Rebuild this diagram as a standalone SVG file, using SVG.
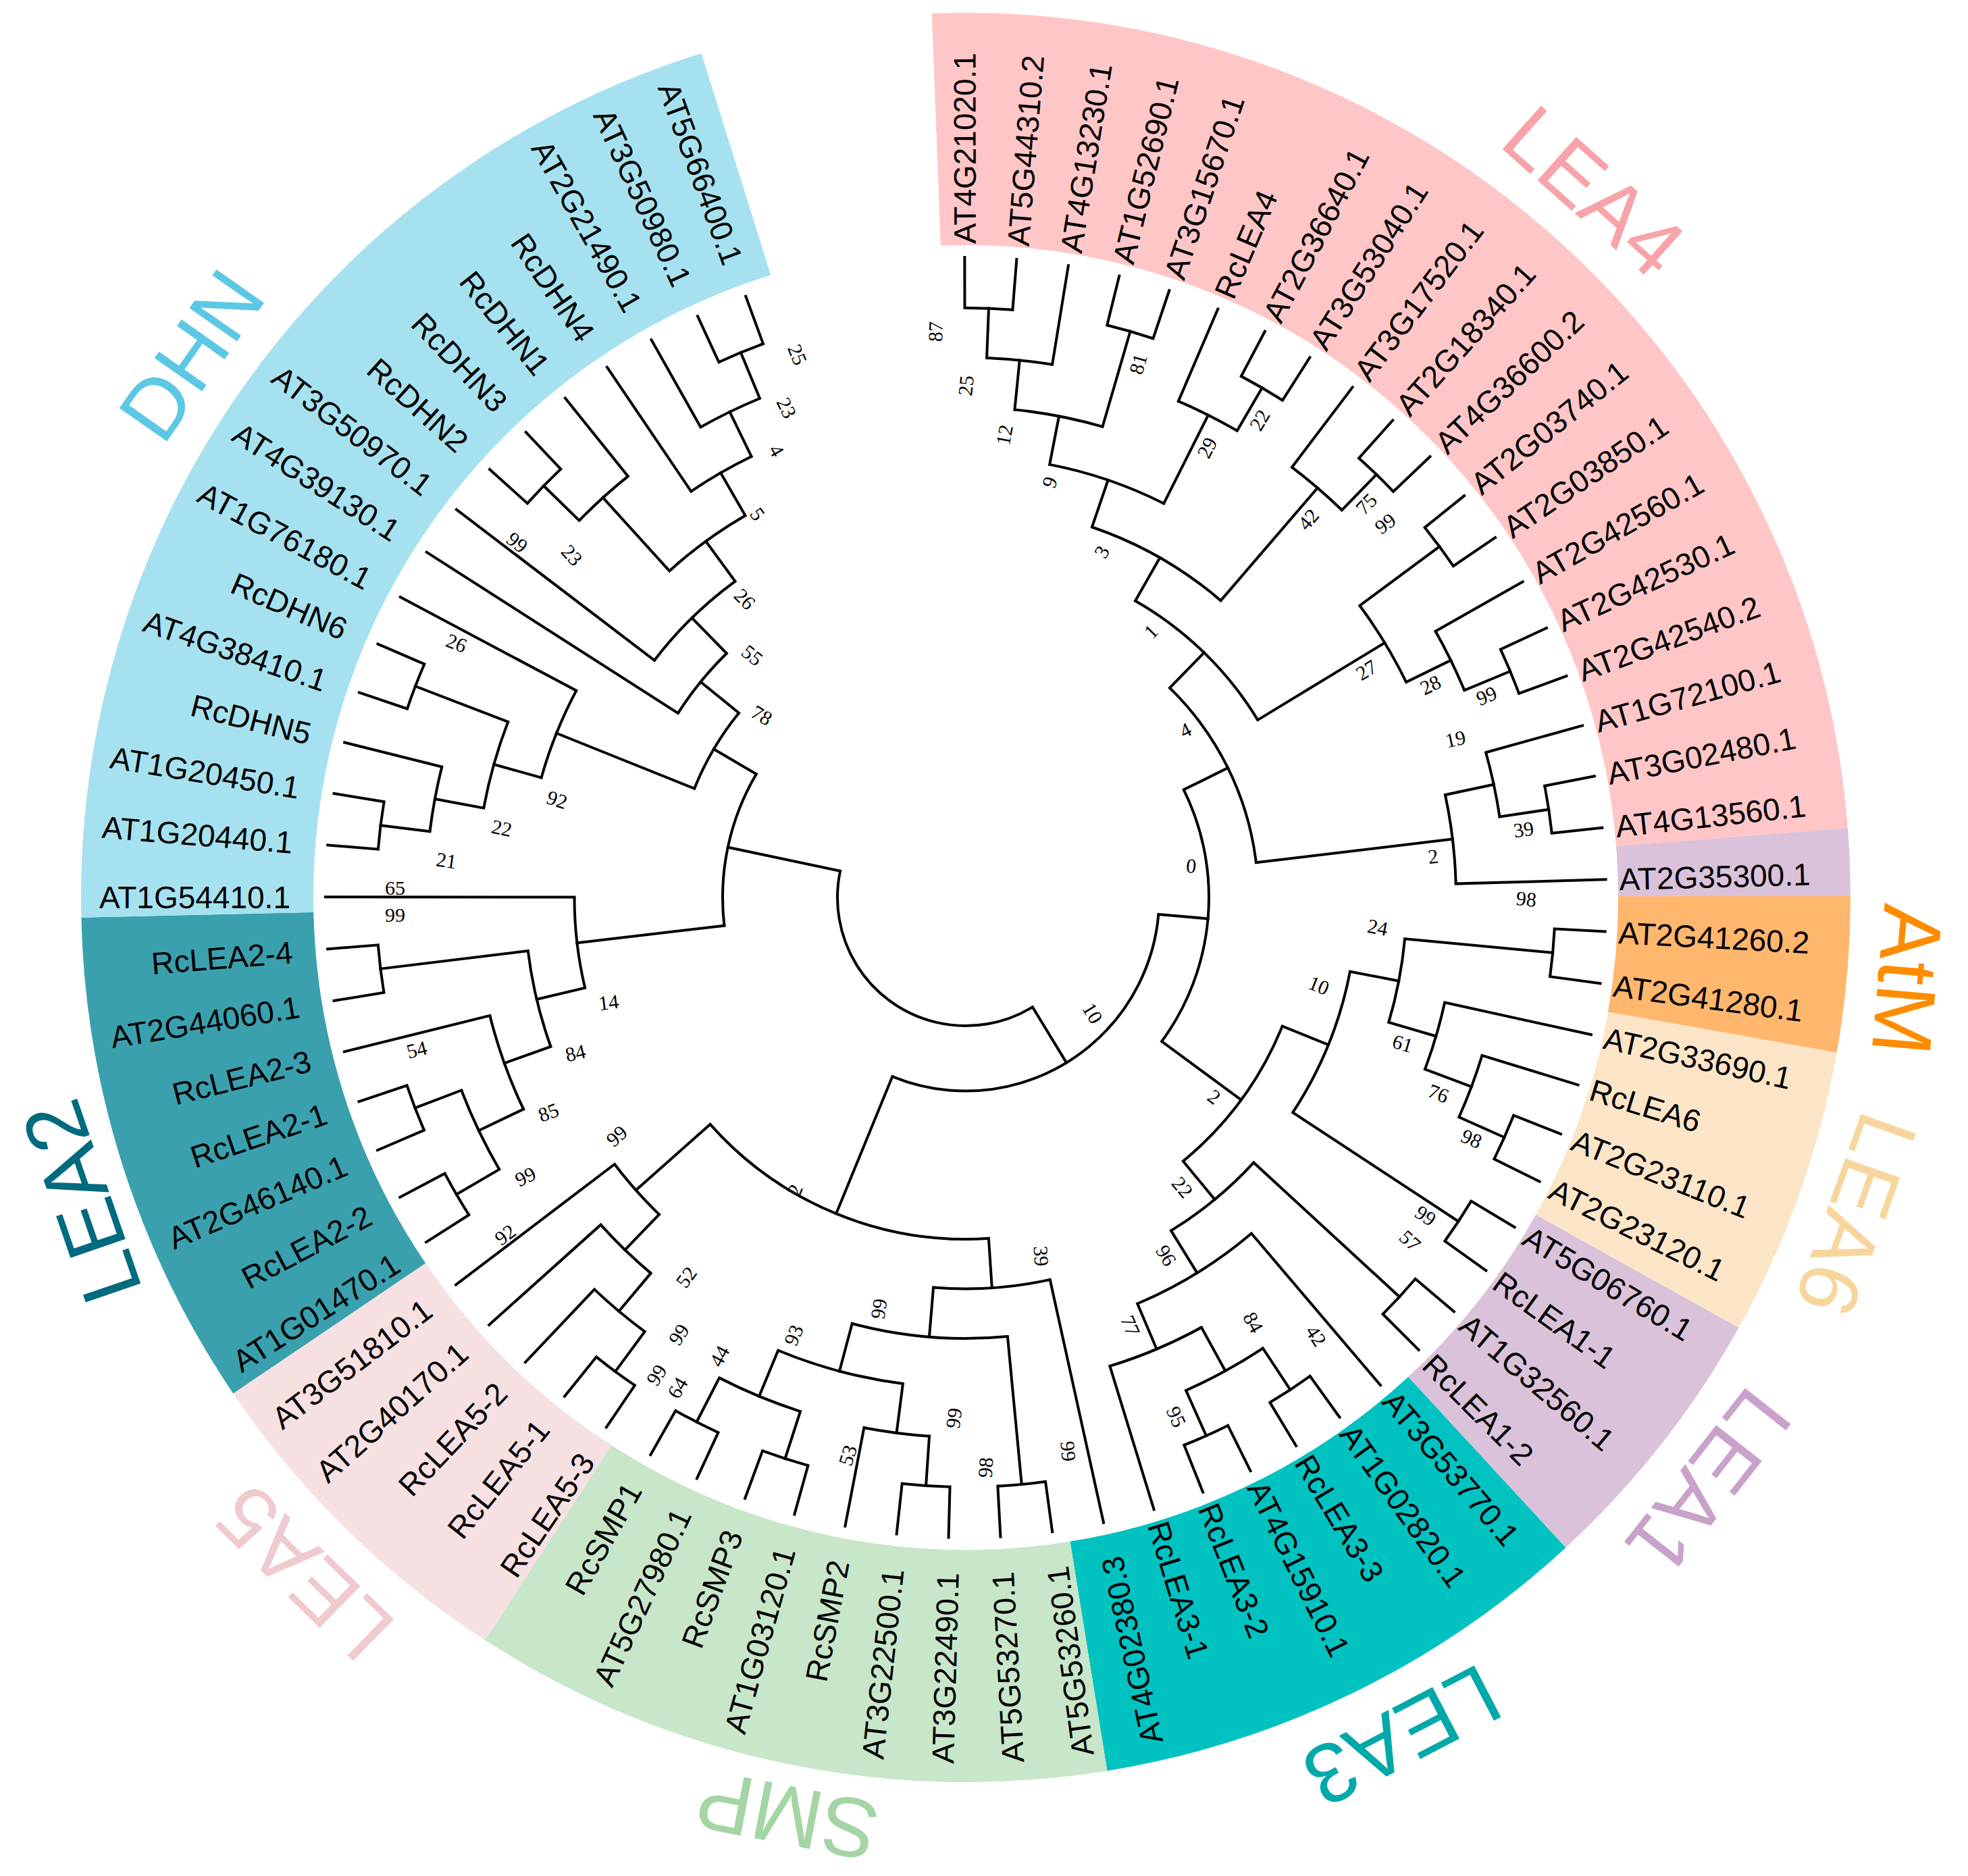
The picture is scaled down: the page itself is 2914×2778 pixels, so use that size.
<svg xmlns="http://www.w3.org/2000/svg" width="2914" height="2778" viewBox="0 0 2914 2778">
<style>
.rg{fill:none;stroke-width:344}
.br line{stroke:#000;stroke-width:4;stroke-linecap:square}
.br circle{fill:none;stroke:#000;stroke-width:4}
.lf{font-family:"Liberation Sans",Arial,sans-serif;font-size:46px;fill:#000}
.fl{text-anchor:end}
.bs{font-family:"Liberation Serif","Times New Roman",serif;font-size:30px;fill:#000;text-anchor:middle}
.cl{font-family:"Liberation Sans",Arial,sans-serif;font-size:125px;text-anchor:middle}
</style>
<rect width="2914" height="2778" fill="#ffffff"/>
<g id="ranges" transform="translate(1430,1329)">
<circle class="rg" r="1138" stroke="#FFC6C7" stroke-dasharray="1741.9 99999" transform="rotate(-92.2)"/>
<circle class="rg" r="1138" stroke="#D9C2DA" stroke-dasharray="87.4 99999" transform="rotate(-4.5)"/>
<circle class="rg" r="1138" stroke="#FFB66D" stroke-dasharray="202.6 99999" transform="rotate(-0.1)"/>
<circle class="rg" r="1138" stroke="#FCE5C7" stroke-dasharray="377.4 99999" transform="rotate(10.1)"/>
<circle class="rg" r="1138" stroke="#D9C2DA" stroke-dasharray="361.5 99999" transform="rotate(29.1)"/>
<circle class="rg" r="1138" stroke="#00C2C1" stroke-dasharray="665.4 99999" transform="rotate(47.3)"/>
<circle class="rg" r="1138" stroke="#C8E6C9" stroke-dasharray="836.2 99999" transform="rotate(80.8)"/>
<circle class="rg" r="1138" stroke="#F6E0E2" stroke-dasharray="456.8 99999" transform="rotate(122.9)"/>
<circle class="rg" r="1138" stroke="#3AA0AD" stroke-dasharray="651.5 99999" transform="rotate(145.9)"/>
<circle class="rg" r="1138" stroke="#A6E1EF" stroke-dasharray="1467.8 99999" transform="rotate(178.7)"/>
</g>
<g id="connectors" class="br" transform="translate(1430,1329)">
<circle r="873" stroke-dasharray="71 99999" transform="rotate(-90.1)"/>
<circle r="799.5" stroke-dasharray="97.54 99999" transform="rotate(-87.77)"/>
<circle r="873" stroke-dasharray="71 99999" transform="rotate(-76.13)"/>
<circle r="726" stroke-dasharray="132.73 99999" transform="rotate(-84.275)"/>
<circle r="873" stroke-dasharray="70.85 99999" transform="rotate(-62.15)"/>
<circle r="799.5" stroke-dasharray="97.47 99999" transform="rotate(-66.81)"/>
<circle r="653" stroke-dasharray="179.16 99999" transform="rotate(-79.04)"/>
<circle r="873" stroke-dasharray="71 99999" transform="rotate(-48.18)"/>
<circle r="799.5" stroke-dasharray="97.54 99999" transform="rotate(-52.84)"/>
<circle r="579.5" stroke-dasharray="220.84 99999" transform="rotate(-71.18)"/>
<circle r="873" stroke-dasharray="71 99999" transform="rotate(-38.87)"/>
<circle r="873" stroke-dasharray="70.85 99999" transform="rotate(-24.89)"/>
<circle r="799.5" stroke-dasharray="97.47 99999" transform="rotate(-29.55)"/>
<circle r="726" stroke-dasharray="132.79 99999" transform="rotate(-36.54)"/>
<circle r="506" stroke-dasharray="255.76 99999" transform="rotate(-60.26)"/>
<circle r="873" stroke-dasharray="71 99999" transform="rotate(-10.92)"/>
<circle r="799.5" stroke-dasharray="97.54 99999" transform="rotate(-15.58)"/>
<circle r="726" stroke-dasharray="132.73 99999" transform="rotate(-12.085)"/>
<circle r="433" stroke-dasharray="294.21 99999" transform="rotate(-45.78)"/>
<circle r="873" stroke-dasharray="71 99999" transform="rotate(3.05)"/>
<circle r="873" stroke-dasharray="71 99999" transform="rotate(21.68)"/>
<circle r="799.5" stroke-dasharray="97.54 99999" transform="rotate(17.02)"/>
<circle r="726" stroke-dasharray="103.21 99999" transform="rotate(12.37)"/>
<circle r="653" stroke-dasharray="126.05 99999" transform="rotate(5.38)"/>
<circle r="873" stroke-dasharray="70.85 99999" transform="rotate(31)"/>
<circle r="579.5" stroke-dasharray="226.71 99999" transform="rotate(10.91)"/>
<circle r="873" stroke-dasharray="71 99999" transform="rotate(40.31)"/>
<circle r="873" stroke-dasharray="71 99999" transform="rotate(54.28)"/>
<circle r="873" stroke-dasharray="71 99999" transform="rotate(63.6)"/>
<circle r="799.5" stroke-dasharray="130.05 99999" transform="rotate(56.61)"/>
<circle r="726" stroke-dasharray="147.49 99999" transform="rotate(61.27)"/>
<circle r="653" stroke-dasharray="198.99 99999" transform="rotate(49.63)"/>
<circle r="579.5" stroke-dasharray="158.99 99999" transform="rotate(42.64)"/>
<circle r="506" stroke-dasharray="250.64 99999" transform="rotate(22.12)"/>
<circle r="360" stroke-dasharray="393.49 99999" transform="rotate(-26.315)"/>
<circle r="873" stroke-dasharray="71 99999" transform="rotate(82.23)"/>
<circle r="873" stroke-dasharray="71 99999" transform="rotate(91.54)"/>
<circle r="799.5" stroke-dasharray="97.54 99999" transform="rotate(93.87)"/>
<circle r="873" stroke-dasharray="70.85 99999" transform="rotate(105.52)"/>
<circle r="873" stroke-dasharray="71 99999" transform="rotate(114.83)"/>
<circle r="799.5" stroke-dasharray="129.98 99999" transform="rotate(107.845)"/>
<circle r="726" stroke-dasharray="191.78 99999" transform="rotate(97.365)"/>
<circle r="653" stroke-dasharray="232.16 99999" transform="rotate(84.56)"/>
<circle r="579.5" stroke-dasharray="173.71 99999" transform="rotate(77.57)"/>
<circle r="873" stroke-dasharray="70.85 99999" transform="rotate(124.15)"/>
<circle r="799.5" stroke-dasharray="97.47 99999" transform="rotate(126.475)"/>
<circle r="726" stroke-dasharray="103.27 99999" transform="rotate(129.97)"/>
<circle r="653" stroke-dasharray="99.55 99999" transform="rotate(134.045)"/>
<circle r="506" stroke-dasharray="461.44 99999" transform="rotate(86.16)"/>
<circle r="286.5" stroke-dasharray="536.47 99999" transform="rotate(5)"/>
<circle r="873" stroke-dasharray="71 99999" transform="rotate(147.43)"/>
<circle r="873" stroke-dasharray="71 99999" transform="rotate(156.75)"/>
<circle r="799.5" stroke-dasharray="130.05 99999" transform="rotate(149.76)"/>
<circle r="726" stroke-dasharray="147.49 99999" transform="rotate(154.42)"/>
<circle r="873" stroke-dasharray="71 99999" transform="rotate(170.72)"/>
<circle r="653" stroke-dasharray="146 99999" transform="rotate(160.24)"/>
<circle r="579.5" stroke-dasharray="135.48 99999" transform="rotate(166.645)"/>
<circle r="873" stroke-dasharray="71 99999" transform="rotate(184.69)"/>
<circle r="799.5" stroke-dasharray="97.54 99999" transform="rotate(187.02)"/>
<circle r="873" stroke-dasharray="70.85 99999" transform="rotate(198.67)"/>
<circle r="726" stroke-dasharray="132.79 99999" transform="rotate(190.515)"/>
<circle r="653" stroke-dasharray="139.33 99999" transform="rotate(195.755)"/>
<circle r="873" stroke-dasharray="70.85 99999" transform="rotate(221.96)"/>
<circle r="799.5" stroke-dasharray="97.47 99999" transform="rotate(224.285)"/>
<circle r="873" stroke-dasharray="71 99999" transform="rotate(245.24)"/>
<circle r="799.5" stroke-dasharray="97.4 99999" transform="rotate(240.59)"/>
<circle r="726" stroke-dasharray="103.27 99999" transform="rotate(235.93)"/>
<circle r="653" stroke-dasharray="139.33 99999" transform="rotate(227.78)"/>
<circle r="579.5" stroke-dasharray="167.8 99999" transform="rotate(217.3)"/>
<circle r="506" stroke-dasharray="114.41 99999" transform="rotate(212.64)"/>
<circle r="433" stroke-dasharray="130.36 99999" transform="rotate(201.87)"/>
<circle r="360" stroke-dasharray="233.45 99999" transform="rotate(173.34)"/>
<circle r="190" stroke-dasharray="441.97 99999" transform="rotate(58.64)"/>
<line x1="873" x2="948" transform="rotate(-90.1)"/>
<line x1="873" x2="948" transform="rotate(-85.44)"/>
<line x1="799.5" x2="948" transform="rotate(-80.78)"/>
<line x1="873" x2="948" transform="rotate(-76.13)"/>
<line x1="873" x2="948" transform="rotate(-71.47)"/>
<line x1="799.5" x2="948" transform="rotate(-66.81)"/>
<line x1="873" x2="948" transform="rotate(-62.15)"/>
<line x1="873" x2="948" transform="rotate(-57.5)"/>
<line x1="799.5" x2="948" transform="rotate(-52.84)"/>
<line x1="873" x2="948" transform="rotate(-48.18)"/>
<line x1="873" x2="948" transform="rotate(-43.52)"/>
<line x1="873" x2="948" transform="rotate(-38.87)"/>
<line x1="873" x2="948" transform="rotate(-34.21)"/>
<line x1="799.5" x2="948" transform="rotate(-29.55)"/>
<line x1="873" x2="948" transform="rotate(-24.89)"/>
<line x1="873" x2="948" transform="rotate(-20.24)"/>
<line x1="799.5" x2="948" transform="rotate(-15.58)"/>
<line x1="873" x2="948" transform="rotate(-10.92)"/>
<line x1="873" x2="948" transform="rotate(-6.26)"/>
<line x1="726" x2="948" transform="rotate(-1.61)"/>
<line x1="873" x2="948" transform="rotate(3.05)"/>
<line x1="873" x2="948" transform="rotate(7.71)"/>
<line x1="726" x2="948" transform="rotate(12.37)"/>
<line x1="799.5" x2="948" transform="rotate(17.02)"/>
<line x1="873" x2="948" transform="rotate(21.68)"/>
<line x1="873" x2="948" transform="rotate(26.34)"/>
<line x1="873" x2="948" transform="rotate(31)"/>
<line x1="873" x2="948" transform="rotate(35.65)"/>
<line x1="873" x2="948" transform="rotate(40.31)"/>
<line x1="873" x2="948" transform="rotate(44.97)"/>
<line x1="653" x2="948" transform="rotate(49.63)"/>
<line x1="873" x2="948" transform="rotate(54.28)"/>
<line x1="873" x2="948" transform="rotate(58.94)"/>
<line x1="873" x2="948" transform="rotate(63.6)"/>
<line x1="873" x2="948" transform="rotate(68.26)"/>
<line x1="726" x2="948" transform="rotate(72.91)"/>
<line x1="579.5" x2="948" transform="rotate(77.57)"/>
<line x1="873" x2="948" transform="rotate(82.23)"/>
<line x1="873" x2="948" transform="rotate(86.89)"/>
<line x1="873" x2="948" transform="rotate(91.54)"/>
<line x1="873" x2="948" transform="rotate(96.2)"/>
<line x1="799.5" x2="948" transform="rotate(100.86)"/>
<line x1="873" x2="948" transform="rotate(105.52)"/>
<line x1="873" x2="948" transform="rotate(110.17)"/>
<line x1="873" x2="948" transform="rotate(114.83)"/>
<line x1="873" x2="948" transform="rotate(119.49)"/>
<line x1="873" x2="948" transform="rotate(124.15)"/>
<line x1="873" x2="948" transform="rotate(128.8)"/>
<line x1="799.5" x2="948" transform="rotate(133.46)"/>
<line x1="726" x2="948" transform="rotate(138.12)"/>
<line x1="653" x2="948" transform="rotate(142.78)"/>
<line x1="873" x2="948" transform="rotate(147.43)"/>
<line x1="873" x2="948" transform="rotate(152.09)"/>
<line x1="873" x2="948" transform="rotate(156.75)"/>
<line x1="873" x2="948" transform="rotate(161.41)"/>
<line x1="726" x2="948" transform="rotate(166.06)"/>
<line x1="873" x2="948" transform="rotate(170.72)"/>
<line x1="873" x2="948" transform="rotate(175.38)"/>
<line x1="579.5" x2="948" transform="rotate(180.04)"/>
<line x1="873" x2="948" transform="rotate(184.69)"/>
<line x1="873" x2="948" transform="rotate(189.35)"/>
<line x1="799.5" x2="948" transform="rotate(194.01)"/>
<line x1="873" x2="948" transform="rotate(198.67)"/>
<line x1="873" x2="948" transform="rotate(203.32)"/>
<line x1="653" x2="948" transform="rotate(207.98)"/>
<line x1="506" x2="948" transform="rotate(212.64)"/>
<line x1="579.5" x2="948" transform="rotate(217.3)"/>
<line x1="873" x2="948" transform="rotate(221.96)"/>
<line x1="873" x2="948" transform="rotate(226.61)"/>
<line x1="799.5" x2="948" transform="rotate(231.27)"/>
<line x1="726" x2="948" transform="rotate(235.93)"/>
<line x1="799.5" x2="948" transform="rotate(240.59)"/>
<line x1="873" x2="948" transform="rotate(245.24)"/>
<line x1="873" x2="948" transform="rotate(249.9)"/>
<line x1="799.5" x2="873" transform="rotate(-87.77)"/>
<line x1="726" x2="799.5" transform="rotate(-84.275)"/>
<line x1="726" x2="873" transform="rotate(-73.8)"/>
<line x1="653" x2="726" transform="rotate(-79.04)"/>
<line x1="799.5" x2="873" transform="rotate(-59.825)"/>
<line x1="653" x2="799.5" transform="rotate(-63.32)"/>
<line x1="579.5" x2="653" transform="rotate(-71.18)"/>
<line x1="799.5" x2="873" transform="rotate(-45.85)"/>
<line x1="579.5" x2="799.5" transform="rotate(-49.345)"/>
<line x1="506" x2="579.5" transform="rotate(-60.26)"/>
<line x1="726" x2="873" transform="rotate(-36.54)"/>
<line x1="799.5" x2="873" transform="rotate(-22.565)"/>
<line x1="726" x2="799.5" transform="rotate(-26.06)"/>
<line x1="506" x2="726" transform="rotate(-31.3)"/>
<line x1="433" x2="506" transform="rotate(-45.78)"/>
<line x1="799.5" x2="873" transform="rotate(-8.59)"/>
<line x1="726" x2="799.5" transform="rotate(-12.085)"/>
<line x1="433" x2="726" transform="rotate(-6.85)"/>
<line x1="360" x2="433" transform="rotate(-26.315)"/>
<line x1="653" x2="873" transform="rotate(5.38)"/>
<line x1="799.5" x2="873" transform="rotate(24.01)"/>
<line x1="726" x2="799.5" transform="rotate(20.515)"/>
<line x1="653" x2="726" transform="rotate(16.44)"/>
<line x1="579.5" x2="653" transform="rotate(10.91)"/>
<line x1="579.5" x2="873" transform="rotate(33.325)"/>
<line x1="506" x2="579.5" transform="rotate(22.12)"/>
<line x1="579.5" x2="873" transform="rotate(42.64)"/>
<line x1="799.5" x2="873" transform="rotate(56.61)"/>
<line x1="799.5" x2="873" transform="rotate(65.93)"/>
<line x1="726" x2="799.5" transform="rotate(61.27)"/>
<line x1="653" x2="726" transform="rotate(67.09)"/>
<line x1="579.5" x2="653" transform="rotate(58.36)"/>
<line x1="506" x2="579.5" transform="rotate(50.5)"/>
<line x1="360" x2="506" transform="rotate(36.31)"/>
<line x1="286.5" x2="360" transform="rotate(5)"/>
<line x1="653" x2="873" transform="rotate(84.56)"/>
<line x1="799.5" x2="873" transform="rotate(93.87)"/>
<line x1="726" x2="799.5" transform="rotate(97.365)"/>
<line x1="799.5" x2="873" transform="rotate(107.845)"/>
<line x1="799.5" x2="873" transform="rotate(117.16)"/>
<line x1="726" x2="799.5" transform="rotate(112.5)"/>
<line x1="653" x2="726" transform="rotate(104.93)"/>
<line x1="579.5" x2="653" transform="rotate(94.745)"/>
<line x1="506" x2="579.5" transform="rotate(86.16)"/>
<line x1="799.5" x2="873" transform="rotate(126.475)"/>
<line x1="726" x2="799.5" transform="rotate(129.97)"/>
<line x1="653" x2="726" transform="rotate(134.045)"/>
<line x1="506" x2="653" transform="rotate(138.41)"/>
<line x1="286.5" x2="506" transform="rotate(112.285)"/>
<line x1="190" x2="286.5" transform="rotate(58.64)"/>
<line x1="799.5" x2="873" transform="rotate(149.76)"/>
<line x1="799.5" x2="873" transform="rotate(159.08)"/>
<line x1="726" x2="799.5" transform="rotate(154.42)"/>
<line x1="653" x2="726" transform="rotate(160.24)"/>
<line x1="653" x2="873" transform="rotate(173.05)"/>
<line x1="579.5" x2="653" transform="rotate(166.645)"/>
<line x1="360" x2="579.5" transform="rotate(173.34)"/>
<line x1="799.5" x2="873" transform="rotate(187.02)"/>
<line x1="726" x2="799.5" transform="rotate(190.515)"/>
<line x1="726" x2="873" transform="rotate(200.995)"/>
<line x1="653" x2="726" transform="rotate(195.755)"/>
<line x1="433" x2="653" transform="rotate(201.87)"/>
<line x1="799.5" x2="873" transform="rotate(224.285)"/>
<line x1="653" x2="799.5" transform="rotate(227.78)"/>
<line x1="799.5" x2="873" transform="rotate(247.57)"/>
<line x1="726" x2="799.5" transform="rotate(244.08)"/>
<line x1="653" x2="726" transform="rotate(240.005)"/>
<line x1="579.5" x2="653" transform="rotate(233.89)"/>
<line x1="506" x2="579.5" transform="rotate(225.595)"/>
<line x1="433" x2="506" transform="rotate(219.12)"/>
<line x1="360" x2="433" transform="rotate(210.495)"/>
<line x1="190" x2="360" transform="rotate(191.92)"/>
</g>
<g id="leaves" class="lf" transform="translate(1430,1329)">
<g id="leaf-AT4G21020.1"><text x="968" dy="0.36em" transform="rotate(-90.1)">AT4G21020.1</text></g>
<g id="leaf-AT5G44310.2"><text x="968" dy="0.36em" transform="rotate(-85.44)">AT5G44310.2</text></g>
<g id="leaf-AT4G13230.1"><text x="968" dy="0.36em" transform="rotate(-80.78)">AT4G13230.1</text></g>
<g id="leaf-AT1G52690.1"><text x="968" dy="0.36em" transform="rotate(-76.13)">AT1G52690.1</text></g>
<g id="leaf-AT3G15670.1"><text x="968" dy="0.36em" transform="rotate(-71.47)">AT3G15670.1</text></g>
<g id="leaf-RcLEA4"><text x="968" dy="0.36em" transform="rotate(-66.81)">RcLEA4</text></g>
<g id="leaf-AT2G36640.1"><text x="968" dy="0.36em" transform="rotate(-62.15)">AT2G36640.1</text></g>
<g id="leaf-AT3G53040.1"><text x="968" dy="0.36em" transform="rotate(-57.5)">AT3G53040.1</text></g>
<g id="leaf-AT3G17520.1"><text x="968" dy="0.36em" transform="rotate(-52.84)">AT3G17520.1</text></g>
<g id="leaf-AT2G18340.1"><text x="968" dy="0.36em" transform="rotate(-48.18)">AT2G18340.1</text></g>
<g id="leaf-AT4G36600.2"><text x="968" dy="0.36em" transform="rotate(-43.52)">AT4G36600.2</text></g>
<g id="leaf-AT2G03740.1"><text x="968" dy="0.36em" transform="rotate(-38.87)">AT2G03740.1</text></g>
<g id="leaf-AT2G03850.1"><text x="968" dy="0.36em" transform="rotate(-34.21)">AT2G03850.1</text></g>
<g id="leaf-AT2G42560.1"><text x="968" dy="0.36em" transform="rotate(-29.55)">AT2G42560.1</text></g>
<g id="leaf-AT2G42530.1"><text x="968" dy="0.36em" transform="rotate(-24.89)">AT2G42530.1</text></g>
<g id="leaf-AT2G42540.2"><text x="968" dy="0.36em" transform="rotate(-20.24)">AT2G42540.2</text></g>
<g id="leaf-AT1G72100.1"><text x="968" dy="0.36em" transform="rotate(-15.58)">AT1G72100.1</text></g>
<g id="leaf-AT3G02480.1"><text x="968" dy="0.36em" transform="rotate(-10.92)">AT3G02480.1</text></g>
<g id="leaf-AT4G13560.1"><text x="968" dy="0.36em" transform="rotate(-6.26)">AT4G13560.1</text></g>
<g id="leaf-AT2G35300.1"><text x="968" dy="0.36em" transform="rotate(-1.61)">AT2G35300.1</text></g>
<g id="leaf-AT2G41260.2"><text x="968" dy="0.36em" transform="rotate(3.05)">AT2G41260.2</text></g>
<g id="leaf-AT2G41280.1"><text x="968" dy="0.36em" transform="rotate(7.71)">AT2G41280.1</text></g>
<g id="leaf-AT2G33690.1"><text x="968" dy="0.36em" transform="rotate(12.37)">AT2G33690.1</text></g>
<g id="leaf-RcLEA6"><text x="968" dy="0.36em" transform="rotate(17.02)">RcLEA6</text></g>
<g id="leaf-AT2G23110.1"><text x="968" dy="0.36em" transform="rotate(21.68)">AT2G23110.1</text></g>
<g id="leaf-AT2G23120.1"><text x="968" dy="0.36em" transform="rotate(26.34)">AT2G23120.1</text></g>
<g id="leaf-AT5G06760.1"><text x="968" dy="0.36em" transform="rotate(31)">AT5G06760.1</text></g>
<g id="leaf-RcLEA1-1"><text x="968" dy="0.36em" transform="rotate(35.65)">RcLEA1-1</text></g>
<g id="leaf-AT1G32560.1"><text x="968" dy="0.36em" transform="rotate(40.31)">AT1G32560.1</text></g>
<g id="leaf-RcLEA1-2"><text x="968" dy="0.36em" transform="rotate(44.97)">RcLEA1-2</text></g>
<g id="leaf-AT3G53770.1"><text x="968" dy="0.36em" transform="rotate(49.63)">AT3G53770.1</text></g>
<g id="leaf-AT1G02820.1"><text x="968" dy="0.36em" transform="rotate(54.28)">AT1G02820.1</text></g>
<g id="leaf-RcLEA3-3"><text x="968" dy="0.36em" transform="rotate(58.94)">RcLEA3-3</text></g>
<g id="leaf-AT4G15910.1"><text x="968" dy="0.36em" transform="rotate(63.6)">AT4G15910.1</text></g>
<g id="leaf-RcLEA3-2"><text x="968" dy="0.36em" transform="rotate(68.26)">RcLEA3-2</text></g>
<g id="leaf-RcLEA3-1"><text x="968" dy="0.36em" transform="rotate(72.91)">RcLEA3-1</text></g>
<g id="leaf-AT4G02380.3"><text class="fl" x="-1000" dy="0.36em" transform="rotate(-102.43)">AT4G02380.3</text></g>
<g id="leaf-AT5G53260.1"><text class="fl" x="-1000" dy="0.36em" transform="rotate(-97.77)">AT5G53260.1</text></g>
<g id="leaf-AT5G53270.1"><text class="fl" x="-1000" dy="0.36em" transform="rotate(-93.11)">AT5G53270.1</text></g>
<g id="leaf-AT3G22490.1"><text class="fl" x="-1000" dy="0.36em" transform="rotate(-88.46)">AT3G22490.1</text></g>
<g id="leaf-AT3G22500.1"><text class="fl" x="-1000" dy="0.36em" transform="rotate(-83.8)">AT3G22500.1</text></g>
<g id="leaf-RcSMP2"><text class="fl" x="-1000" dy="0.36em" transform="rotate(-79.14)">RcSMP2</text></g>
<g id="leaf-AT1G03120.1"><text class="fl" x="-1000" dy="0.36em" transform="rotate(-74.48)">AT1G03120.1</text></g>
<g id="leaf-RcSMP3"><text class="fl" x="-1000" dy="0.36em" transform="rotate(-69.83)">RcSMP3</text></g>
<g id="leaf-AT5G27980.1"><text class="fl" x="-1000" dy="0.36em" transform="rotate(-65.17)">AT5G27980.1</text></g>
<g id="leaf-RcSMP1"><text class="fl" x="-1000" dy="0.36em" transform="rotate(-60.51)">RcSMP1</text></g>
<g id="leaf-RcLEA5-3"><text class="fl" x="-1000" dy="0.36em" transform="rotate(-55.85)">RcLEA5-3</text></g>
<g id="leaf-RcLEA5-1"><text class="fl" x="-1000" dy="0.36em" transform="rotate(-51.2)">RcLEA5-1</text></g>
<g id="leaf-RcLEA5-2"><text class="fl" x="-1000" dy="0.36em" transform="rotate(-46.54)">RcLEA5-2</text></g>
<g id="leaf-AT2G40170.1"><text class="fl" x="-1000" dy="0.36em" transform="rotate(-41.88)">AT2G40170.1</text></g>
<g id="leaf-AT3G51810.1"><text class="fl" x="-1000" dy="0.36em" transform="rotate(-37.22)">AT3G51810.1</text></g>
<g id="leaf-AT1G01470.1"><text class="fl" x="-1000" dy="0.36em" transform="rotate(-32.57)">AT1G01470.1</text></g>
<g id="leaf-RcLEA2-2"><text class="fl" x="-1000" dy="0.36em" transform="rotate(-27.91)">RcLEA2-2</text></g>
<g id="leaf-AT2G46140.1"><text class="fl" x="-1000" dy="0.36em" transform="rotate(-23.25)">AT2G46140.1</text></g>
<g id="leaf-RcLEA2-1"><text class="fl" x="-1000" dy="0.36em" transform="rotate(-18.59)">RcLEA2-1</text></g>
<g id="leaf-RcLEA2-3"><text class="fl" x="-1000" dy="0.36em" transform="rotate(-13.94)">RcLEA2-3</text></g>
<g id="leaf-AT2G44060.1"><text class="fl" x="-1000" dy="0.36em" transform="rotate(-9.28)">AT2G44060.1</text></g>
<g id="leaf-RcLEA2-4"><text class="fl" x="-1000" dy="0.36em" transform="rotate(-4.62)">RcLEA2-4</text></g>
<g id="leaf-AT1G54410.1"><text class="fl" x="-1000" dy="0.36em" transform="rotate(0.04)">AT1G54410.1</text></g>
<g id="leaf-AT1G20440.1"><text class="fl" x="-1000" dy="0.36em" transform="rotate(4.69)">AT1G20440.1</text></g>
<g id="leaf-AT1G20450.1"><text class="fl" x="-1000" dy="0.36em" transform="rotate(9.35)">AT1G20450.1</text></g>
<g id="leaf-RcDHN5"><text class="fl" x="-1000" dy="0.36em" transform="rotate(14.01)">RcDHN5</text></g>
<g id="leaf-AT4G38410.1"><text class="fl" x="-1000" dy="0.36em" transform="rotate(18.67)">AT4G38410.1</text></g>
<g id="leaf-RcDHN6"><text class="fl" x="-1000" dy="0.36em" transform="rotate(23.32)">RcDHN6</text></g>
<g id="leaf-AT1G76180.1"><text class="fl" x="-1000" dy="0.36em" transform="rotate(27.98)">AT1G76180.1</text></g>
<g id="leaf-AT4G39130.1"><text class="fl" x="-1000" dy="0.36em" transform="rotate(32.64)">AT4G39130.1</text></g>
<g id="leaf-AT3G50970.1"><text class="fl" x="-1000" dy="0.36em" transform="rotate(37.3)">AT3G50970.1</text></g>
<g id="leaf-RcDHN2"><text class="fl" x="-1000" dy="0.36em" transform="rotate(41.96)">RcDHN2</text></g>
<g id="leaf-RcDHN3"><text class="fl" x="-1000" dy="0.36em" transform="rotate(46.61)">RcDHN3</text></g>
<g id="leaf-RcDHN1"><text class="fl" x="-1000" dy="0.36em" transform="rotate(51.27)">RcDHN1</text></g>
<g id="leaf-RcDHN4"><text class="fl" x="-1000" dy="0.36em" transform="rotate(55.93)">RcDHN4</text></g>
<g id="leaf-AT2G21490.1"><text class="fl" x="-1000" dy="0.36em" transform="rotate(60.59)">AT2G21490.1</text></g>
<g id="leaf-AT3G50980.1"><text class="fl" x="-1000" dy="0.36em" transform="rotate(65.24)">AT3G50980.1</text></g>
<g id="leaf-AT5G66400.1"><text class="fl" x="-1000" dy="0.36em" transform="rotate(69.9)">AT5G66400.1</text></g>
</g>
<g id="bootstrap" class="bs">
<text x="1385" y="491" dy="0.35em" transform="rotate(-87.8 1385 491)">87</text>
<text x="1430" y="571" dy="0.35em" transform="rotate(-84.3 1430 571)">25</text>
<text x="1487" y="644" dy="0.35em" transform="rotate(-79 1487 644)">12</text>
<text x="1685" y="539" dy="0.35em" transform="rotate(-73.8 1685 539)">81</text>
<text x="1554" y="714" dy="0.35em" transform="rotate(-71.2 1554 714)">9</text>
<text x="1787" y="663" dy="0.35em" transform="rotate(-63.3 1787 663)">29</text>
<text x="1865" y="622" dy="0.35em" transform="rotate(-59.8 1865 622)">22</text>
<text x="1631" y="817" dy="0.35em" transform="rotate(-60.3 1631 817)">3</text>
<text x="1937" y="769" dy="0.35em" transform="rotate(-49.3 1937 769)">42</text>
<text x="2023" y="746" dy="0.35em" transform="rotate(-45.9 2023 746)">75</text>
<text x="2051" y="775" dy="0.35em" transform="rotate(-36.5 2051 775)">99</text>
<text x="1704" y="935" dy="0.35em" transform="rotate(-45.8 1704 935)">1</text>
<text x="2023" y="992" dy="0.35em" transform="rotate(-31.3 2023 992)">27</text>
<text x="2118" y="1014" dy="0.35em" transform="rotate(-26.1 2118 1014)">28</text>
<text x="2201" y="1030" dy="0.35em" transform="rotate(-22.6 2201 1030)">99</text>
<text x="1755" y="1081" dy="0.35em" transform="rotate(-26.3 1755 1081)">4</text>
<text x="2155" y="1094" dy="0.35em" transform="rotate(-12.1 2155 1094)">19</text>
<text x="2256" y="1228" dy="0.35em" transform="rotate(-8.6 2256 1228)">39</text>
<text x="2122" y="1268" dy="0.35em" transform="rotate(-6.9 2122 1268)">2</text>
<text x="1764" y="1282" dy="0.35em" transform="rotate(5 1764 1282)">0</text>
<text x="2260" y="1331" dy="0.35em" transform="rotate(5.4 2260 1331)">98</text>
<text x="2040" y="1373" dy="0.35em" transform="rotate(10.9 2040 1373)">24</text>
<text x="1953" y="1459" dy="0.35em" transform="rotate(22.1 1953 1459)">10</text>
<text x="2077" y="1545" dy="0.35em" transform="rotate(16.4 2077 1545)">61</text>
<text x="2130" y="1619" dy="0.35em" transform="rotate(20.5 2130 1619)">76</text>
<text x="2179" y="1686" dy="0.35em" transform="rotate(24 2179 1686)">98</text>
<text x="1798" y="1624" dy="0.35em" transform="rotate(36.3 1798 1624)">2</text>
<text x="1618" y="1500" dy="0.35em" transform="rotate(58.6 1618 1500)">10</text>
<text x="2111" y="1800" dy="0.35em" transform="rotate(33.3 2111 1800)">99</text>
<text x="2088" y="1837" dy="0.35em" transform="rotate(42.6 2088 1837)">57</text>
<text x="1751" y="1758" dy="0.35em" transform="rotate(50.5 1751 1758)">22</text>
<text x="1727" y="1859" dy="0.35em" transform="rotate(58.4 1727 1859)">96</text>
<text x="1674" y="1963" dy="0.35em" transform="rotate(67.1 1674 1963)">77</text>
<text x="1856" y="1958" dy="0.35em" transform="rotate(61.3 1856 1958)">84</text>
<text x="1949" y="1978" dy="0.35em" transform="rotate(56.6 1949 1978)">42</text>
<text x="1742" y="2098" dy="0.35em" transform="rotate(65.9 1742 2098)">95</text>
<text x="1542" y="1860" dy="0.35em" transform="rotate(86.2 1542 1860)">39</text>
<text x="1582" y="2149" dy="0.35em" transform="rotate(84.6 1582 2149)">99</text>
<text x="1459" y="2173" dy="0.35em" transform="rotate(-86.1 1459 2173)">98</text>
<text x="1177" y="1762" dy="0.35em" transform="rotate(-67.7 1177 1762)">2</text>
<text x="1016" y="1891" dy="0.35em" transform="rotate(-53.6 1016 1891)">52</text>
<text x="1005" y="1976" dy="0.35em" transform="rotate(-56.7 1005 1976)">99</text>
<text x="972" y="2036" dy="0.35em" transform="rotate(-57.1 972 2036)">99</text>
<text x="1003" y="2055" dy="0.35em" transform="rotate(-59.5 1003 2055)">64</text>
<text x="1065" y="2008" dy="0.35em" transform="rotate(-61.8 1065 2008)">44</text>
<text x="1175" y="1977" dy="0.35em" transform="rotate(-68 1175 1977)">93</text>
<text x="1301" y="1938" dy="0.35em" transform="rotate(-82 1301 1938)">99</text>
<text x="1255" y="2155" dy="0.35em" transform="rotate(-72.2 1255 2155)">53</text>
<text x="1412" y="2100" dy="0.35em" transform="rotate(-82.6 1412 2100)">99</text>
<text x="913" y="1682" dy="0.35em" transform="rotate(-42 913 1682)">99</text>
<text x="778" y="1742" dy="0.35em" transform="rotate(-26 778 1742)">99</text>
<text x="748" y="1828" dy="0.35em" transform="rotate(-37 748 1828)">92</text>
<text x="812" y="1647" dy="0.35em" transform="rotate(-20 812 1647)">85</text>
<text x="852" y="1559" dy="0.35em" transform="rotate(-13 852 1559)">84</text>
<text x="617" y="1554" dy="0.35em" transform="rotate(-14 617 1554)">54</text>
<text x="901" y="1484" dy="0.35em" transform="rotate(-7 901 1484)">14</text>
<text x="585" y="1354" dy="0.35em">99</text>
<text x="585" y="1314" dy="0.35em">65</text>
<text x="1181" y="525" dy="0.35em" transform="rotate(67.6 1181 525)">25</text>
<text x="1165" y="604" dy="0.35em" transform="rotate(64.1 1165 604)">23</text>
<text x="1150" y="667" dy="0.35em" transform="rotate(60 1150 667)">4</text>
<text x="1122" y="761" dy="0.35em" transform="rotate(53.9 1122 761)">5</text>
<text x="1103" y="887" dy="0.35em" transform="rotate(45.6 1103 887)">26</text>
<text x="1114" y="970" dy="0.35em" transform="rotate(39.1 1114 970)">55</text>
<text x="1128" y="1059" dy="0.35em" transform="rotate(30.5 1128 1059)">78</text>
<text x="766" y="803" dy="0.35em" transform="rotate(38.4 766 803)">99</text>
<text x="847" y="822" dy="0.35em" transform="rotate(47.8 847 822)">23</text>
<text x="676" y="952" dy="0.35em" transform="rotate(21 676 952)">26</text>
<text x="825" y="1184" dy="0.35em" transform="rotate(18 825 1184)">92</text>
<text x="743" y="1226" dy="0.35em" transform="rotate(12 743 1226)">22</text>
<text x="661" y="1274" dy="0.35em" transform="rotate(8 661 1274)">21</text>
</g>
<g id="clades" class="cl" transform="translate(1430,1329)">
<text fill="#F7A3A8" dy="0.35em" transform="rotate(-48.35) translate(1400 0) rotate(90)">LEA4</text>
<text fill="#FF8C00" dy="0.35em" transform="rotate(5) translate(1400 0) rotate(90)">AtM</text>
<text fill="#F7D69E" dy="0.35em" transform="rotate(19.6) translate(1400 0) rotate(90)">LEA6</text>
<text fill="#C9A2C9" dy="0.35em" transform="rotate(38.2) translate(1400 0) rotate(90)">LEA1</text>
<text fill="#00A9A9" dy="0.35em" transform="rotate(62.5) translate(1400 0) rotate(90)">LEA3</text>
<text fill="#A4D5A4" dy="0.35em" transform="rotate(101) translate(1385 0) rotate(90)">SMP</text>
<text fill="#EFCACE" dy="0.35em" transform="rotate(134.4) translate(1400 0) rotate(90)">LEA5</text>
<text fill="#006A7E" dy="0.35em" transform="rotate(161) translate(1385 0) rotate(90)">LEA2</text>
<text fill="#5CC8E5" dy="0.35em" transform="rotate(215) translate(1400 0) rotate(90)">DHN</text>
</g>
</svg>
